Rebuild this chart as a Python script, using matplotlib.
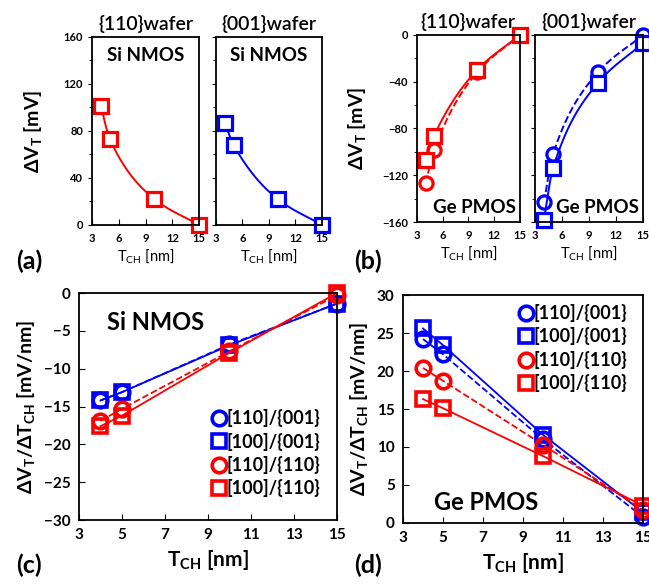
import numpy as np
import matplotlib
matplotlib.use("Agg")
import matplotlib.pyplot as plt

plt.rcParams['font.family'] = ['Lato', 'DejaVu Sans']
plt.rcParams['mathtext.fontset'] = 'custom'
plt.rcParams['mathtext.rm'] = 'Lato'
plt.rcParams['mathtext.bf'] = 'Lato:bold'
plt.rcParams['axes.linewidth'] = 1.3

RED = '#ff0000'
BLUE = '#0000ff'

# ---- data ----
t_ch = [4, 5, 10, 15]

# (a) Si NMOS dVT [mV]
si_110_sq = [101, 73, 22, 0]
si_001_sq = [87, 68, 22, 0]

# (b) Ge PMOS dVT [mV]
ge_110_sq = [-107, -86, -30, 0]
ge_110_ci = [-127, -98, -32, 0]
ge_001_sq = [-158, -114, -41, -7]
ge_001_ci = [-143, -102, -32, 0]

# (c) Si NMOS slope [mV/nm]
c_110_001 = [-14.2, -13.1, -6.8, -1.4]
c_100_001 = [-14.2, -13.1, -6.9, -1.4]
c_110_110 = [-16.9, -15.3, -7.7, -0.3]
c_100_110 = [-17.6, -16.2, -7.9, 0.0]

# (d) Ge PMOS slope [mV/nm]
d_110_001 = [24.2, 22.2, 11.0, 0.8]
d_100_001 = [25.6, 23.4, 11.6, 1.4]
d_110_110 = [20.4, 18.7, 10.3, 1.7]
d_100_110 = [16.3, 15.1, 8.8, 2.3]

legend_labels = ['[110]/{001}', '[100]/{001}', '[110]/{110}', '[100]/{110}']


def smooth(x, y, n=80):
    # monotone cubic (Fritsch-Carlson), only used to draw the guide curve
    x = np.asarray(x, float)
    y = np.asarray(y, float)
    h = np.diff(x)
    d = np.diff(y) / h
    m = np.zeros_like(y)
    m[0], m[-1] = d[0], d[-1]
    for i in range(1, len(x) - 1):
        if d[i - 1] * d[i] > 0:
            w1 = 2 * h[i] + h[i - 1]
            w2 = h[i] + 2 * h[i - 1]
            m[i] = (w1 + w2) / (w1 / d[i - 1] + w2 / d[i])
    xs = np.linspace(x[0], x[-1], n)
    k = np.clip(np.searchsorted(x, xs) - 1, 0, len(x) - 2)
    t = (xs - x[k]) / h[k]
    h00 = 2 * t**3 - 3 * t**2 + 1
    h10 = t**3 - 2 * t**2 + t
    h01 = -2 * t**3 + 3 * t**2
    h11 = t**3 - t**2
    ys = h00 * y[k] + h10 * h[k] * m[k] + h01 * y[k + 1] + h11 * h[k] * m[k + 1]
    return xs, ys


mk = dict(markersize=9.5, markeredgewidth=2.3, markerfacecolor='white', clip_on=False)


def small_panel(ax, series, ylim, yticks, show_ylabels):
    for y, col, marker, ls in series:
        xs, ys = smooth(t_ch, y)
        ax.plot(xs, ys, color=col, ls=ls, lw=1.4)
        ax.plot(t_ch, y, ls='none', marker=marker, color=col, **mk)
    ax.set_xlim(3, 15)
    ax.set_ylim(*ylim)
    ax.set_xticks([3, 6, 9, 12, 15])
    ax.set_yticks(yticks)
    ax.set_yticks(np.arange(ylim[0], ylim[1] + 1, 20), minor=True)
    ax.tick_params(axis='x', direction='in', length=4, labelsize=8, pad=6)
    ax.tick_params(axis='y', direction='out', length=3, labelsize=8)
    ax.tick_params(axis='y', which='minor', direction='out', length=2)
    for lab in ax.get_xticklabels() + ax.get_yticklabels():
        lab.set_fontweight('bold')
    if not show_ylabels:
        ax.set_yticklabels([])
    ax.set_xlabel('T$_\\mathrm{CH}$ [nm]', fontsize=10.5, labelpad=2)


fig = plt.figure(figsize=(6.49, 5.85), dpi=100)

# (a)
ax_a1 = fig.add_axes([0.1418, 0.6154, 0.165, 0.3214])
ax_a2 = fig.add_axes([0.3328, 0.6154, 0.1633, 0.3214])
small_panel(ax_a1, [(si_110_sq, RED, 's', '-')], (0, 160), [0, 40, 80, 120, 160], True)
small_panel(ax_a2, [(si_001_sq, BLUE, 's', '-')], (0, 160), [0, 40, 80, 120, 160], False)
ax_a1.set_ylabel('ΔV$_\\mathbf{T}$ [mV]', fontsize=14, fontweight='bold', labelpad=13)
for ax, title in [(ax_a1, '{110}wafer'), (ax_a2, '{001}wafer')]:
    ax.set_title(title, fontsize=14, fontweight='semibold', pad=5)
    ax.text(0.5, 0.9, 'Si NMOS', transform=ax.transAxes, ha='center', va='center',
            fontsize=13.5, fontweight='bold')

# (b)
ax_b1 = fig.add_axes([0.6425, 0.6205, 0.1587, 0.3197])
ax_b2 = fig.add_axes([0.8243, 0.6205, 0.1664, 0.3197])
small_panel(ax_b1, [(ge_110_ci, RED, 'o', '--'), (ge_110_sq, RED, 's', '-')],
            (-160, 0), [-160, -120, -80, -40, 0], True)
small_panel(ax_b2, [(ge_001_ci, BLUE, 'o', '--'), (ge_001_sq, BLUE, 's', '-')],
            (-160, 0), [-160, -120, -80, -40, 0], False)
ax_b1.set_ylabel('ΔV$_\\mathbf{T}$ [mV]', fontsize=14, fontweight='bold', labelpad=9)
for ax, title in [(ax_b1, '{110}wafer'), (ax_b2, '{001}wafer')]:
    ax.set_title(title, fontsize=14, fontweight='semibold', pad=5)
    ax.text(0.96, 0.08, 'Ge PMOS', transform=ax.transAxes, ha='right', va='center',
            fontsize=13.5, fontweight='bold')

mk_big = dict(markersize=10.5, markeredgewidth=2.6, markerfacecolor='none', clip_on=False)


def slope_panel(ax, data, ylim, yticks):
    styles = [(BLUE, 'o', '--'), (BLUE, 's', '-'), (RED, 'o', '--'), (RED, 's', '-')]
    handles = []
    for y, (col, marker, ls), lab in zip(data, styles, legend_labels):
        ax.plot(t_ch, y, color=col, ls=ls, lw=1.3)
        h, = ax.plot(t_ch, y, ls='none', marker=marker, color=col, label=lab, **mk_big)
        handles.append(h)
    ax.set_xlim(3, 15)
    ax.set_ylim(*ylim)
    ax.set_xticks([3, 5, 7, 9, 11, 13, 15])
    ax.set_yticks(yticks)
    ax.tick_params(direction='in', length=4, labelsize=11, pad=6)
    for lab in ax.get_xticklabels() + ax.get_yticklabels():
        lab.set_fontweight('bold')
    ax.set_xlabel('T$_\\mathbf{CH}$ [nm]', fontsize=15, fontweight='bold', labelpad=4)
    ax.set_ylabel('ΔV$_\\mathbf{T}$/ΔT$_\\mathbf{CH}$ [mV/nm]', fontsize=14,
                  fontweight='bold', labelpad=4)
    return handles


leg_kw = dict(frameon=False, handlelength=0.7, handletextpad=0.05, labelspacing=0.3,
              prop=dict(size=13, weight='bold'), borderaxespad=0.1, markerscale=1.0)

ax_c = fig.add_axes([0.1217, 0.1111, 0.3975, 0.388])
hc = slope_panel(ax_c, [c_110_001, c_100_001, c_110_110, c_100_110],
                 (-30, 0), [-30, -25, -20, -15, -10, -5, 0])
ax_c.text(0.11, 0.87, 'Si NMOS', transform=ax_c.transAxes, fontsize=17,
          fontweight='bold', va='center')
ax_c.legend(handles=hc, loc='lower right', bbox_to_anchor=(0.97, 0.06), **leg_kw)

ax_d = fig.add_axes([0.621, 0.106, 0.3698, 0.3897])
hd = slope_panel(ax_d, [d_110_001, d_100_001, d_110_110, d_100_110],
                 (0, 30), [0, 5, 10, 15, 20, 25, 30])
ax_d.text(0.13, 0.09, 'Ge PMOS', transform=ax_d.transAxes, fontsize=17,
          fontweight='bold', va='center')
ax_d.legend(handles=hd, loc='upper right', bbox_to_anchor=(0.97, 1.0), **leg_kw)

# panel letters
for s, x, y in [('(a)', 0.025, 0.54), ('(b)', 0.545, 0.54),
                ('(c)', 0.025, 0.02), ('(d)', 0.545, 0.02)]:
    fig.text(x, y, s, fontsize=18, fontweight='bold')

fig.savefig('out.png', dpi=100)
